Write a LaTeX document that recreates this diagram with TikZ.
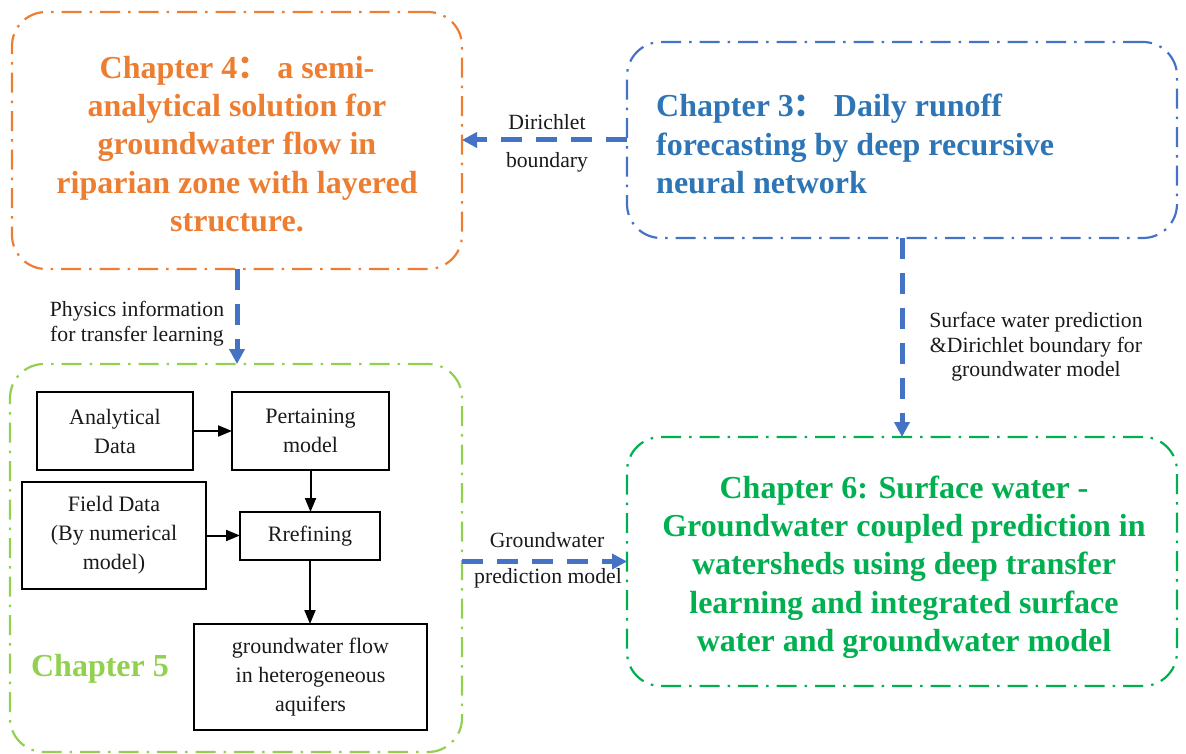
\documentclass[tikz,border=0pt]{standalone}
\usepackage{fontspec}
\setmainfont{Liberation Serif}
\newfontfamily\cjk{Noto Sans CJK SC}
\usetikzlibrary{arrows.meta}

\definecolor{orangeC}{HTML}{ED7D31}
\definecolor{blueBox}{HTML}{4472C4}
\definecolor{blueText}{HTML}{2E75B6}
\definecolor{limeC}{HTML}{92D050}
\definecolor{greenC}{HTML}{00B050}
\definecolor{ink}{HTML}{1A1A1A}

\tikzset{
  chbox/.style={draw=#1, line width=2.2pt, rounded corners=34pt,
    dash pattern=on 20pt off 8pt on 2.5pt off 8pt, inner sep=0pt, outer sep=0pt},
  smallbox/.style={draw=black, line width=2.6pt, inner sep=0pt, outer sep=0pt},
  title/.style={text=#1, font=\fontsize{32}{38.3}\selectfont\bfseries, inner sep=0pt},
  boxtext/.style={text=ink, align=center, font=\fontsize{22}{29}\selectfont, inner sep=0pt},
  note/.style={text=ink, align=center, font=\fontsize{21.7}{24.5}\selectfont, inner sep=0pt},
  flow/.style={draw=blueBox, line width=5pt, dash pattern=on 21pt off 14pt,
    -{Triangle[length=15pt,width=15pt]}},
  link/.style={draw=black, line width=2pt, -{Triangle[length=14pt,width=11pt]}}
}

\begin{document}
\begin{tikzpicture}[x=1pt,y=-1pt]
\useasboundingbox (0,0) rectangle (1186,754);

% chapter frames
\node[chbox=orangeC, minimum width=450pt, minimum height=257pt] (ch4) at (237,140.5) {};
\node[chbox=blueBox, minimum width=550pt, minimum height=196pt] (ch3) at (902,140) {};
\node[chbox=limeC, minimum width=452pt, minimum height=388pt] (ch5) at (236,558) {};
\node[chbox=greenC, minimum width=550pt, minimum height=249pt] (ch6) at (902,561.5) {};

% chapter titles
\node[title=orangeC, align=center] (t4) at (237,144)
  {Chapter 4{\cjk ：} a semi-\\analytical solution for\\groundwater flow in\\riparian zone with layered\\structure.};
\node[title=blueText, align=left, anchor=west] (t3) at (656,144)
  {Chapter 3{\cjk ：} Daily runoff\\forecasting by deep recursive\\neural network};
\node[title=greenC, align=center] (t6) at (904,567)
  {Chapter 6: Surface water -\\Groundwater coupled prediction in\\watersheds using deep transfer\\learning and integrated surface\\water and groundwater model};
\node[title=limeC, font=\fontsize{32}{38}\selectfont\bfseries] (t5) at (100,669) {Chapter 5};

% workflow inside chapter 5
\node[smallbox, minimum width=156pt, minimum height=78pt] (ana) at (115,431) {};
\node[boxtext] (anaT) at (ana) {Analytical\\Data};
\node[smallbox, minimum width=157pt, minimum height=78pt] (pre) at (310.5,431) {};
\node[boxtext] (preT) at (pre) {Pertaining\\model};
\node[smallbox, minimum width=184pt, minimum height=107pt] (fld) at (114,535.5) {};
\node[boxtext] (fldT) at (fld) {Field Data\\(By numerical\\model)};
\node[smallbox, minimum width=140pt, minimum height=48pt] (ref) at (310,536) {};
\node[boxtext] (refT) at (ref) {Rrefining};
\node[smallbox, minimum width=233pt, minimum height=106pt] (gw) at (310.5,677) {};
\node[boxtext] (gwT) at (gw) {groundwater flow\\in heterogeneous\\aquifers};

\draw[link] (ana.east) -- (pre.west);
\draw[link] (pre.south) -- (pre.south |- ref.north);
\draw[link] (fld.east) -- (fld.east -| ref.west);
\draw[link] (ref.south) -- (ref.south |- gw.north);

% links between chapters
\draw[flow] (ch3.west) -- (ch3.west -| ch4.east);
\node[note] (l1a) at (547,122) {Dirichlet};
\node[note] (l1b) at (547,162) {boundary};

\draw[flow] (ch4.south) -- (ch4.south |- ch5.north);
\node[note] (l2) at (137,323.5) {Physics information\\for transfer learning};

\draw[flow] (ch3.south) -- (ch3.south |- ch6.north);
\node[note] (l3) at (1036,347) {Surface water prediction\\\&Dirichlet boundary for\\groundwater model};

\draw[flow] (ch6.west -| ch5.east) -- (ch6.west);
\node[note] (l4a) at (547,540) {Groundwater};
\node[note] (l4b) at (548,578) {prediction model};
\end{tikzpicture}
\end{document}
